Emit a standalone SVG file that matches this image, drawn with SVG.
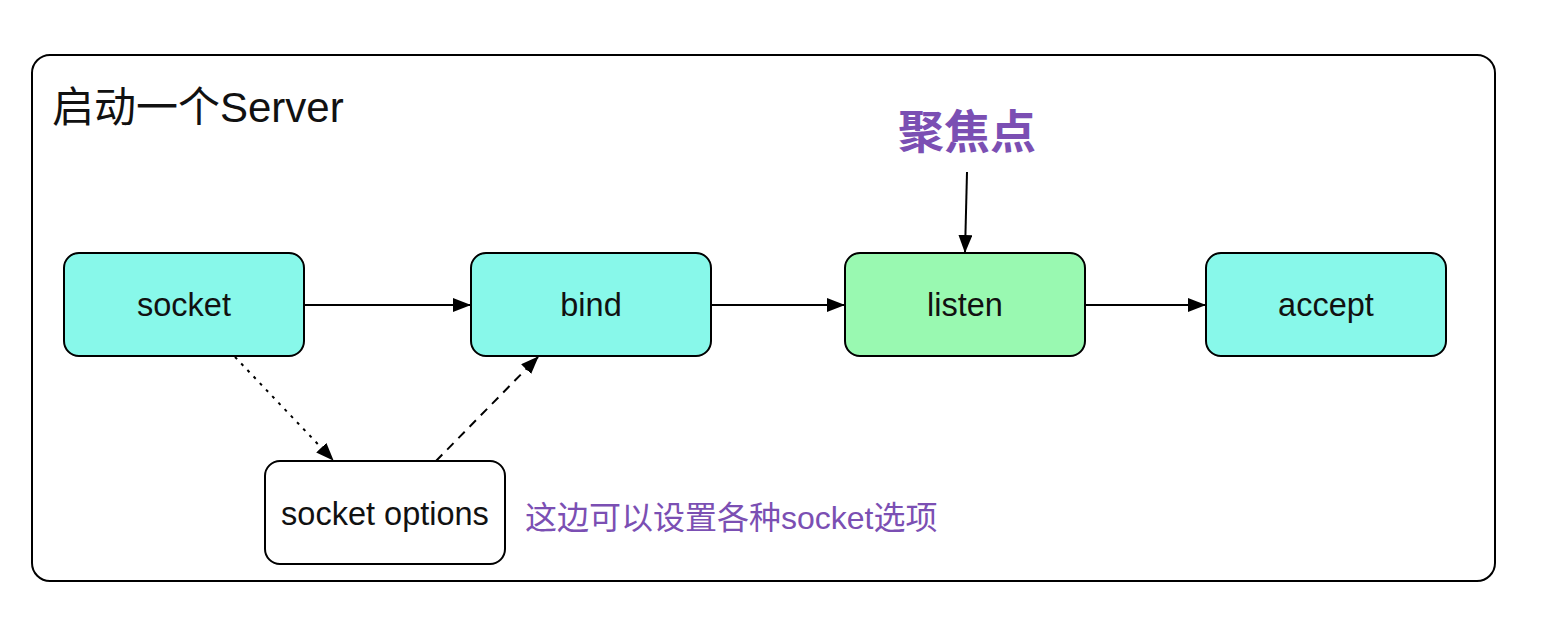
<svg xmlns="http://www.w3.org/2000/svg" width="1544" height="640" viewBox="0 0 1544 640">
<style>
.node{stroke:#000;stroke-width:2}
.c{fill:#88f8ea}
.g{fill:#99f9b1}
.w{fill:#fff}
.t{font-family:"Liberation Sans",Arial,"Noto Sans CJK SC",sans-serif;font-size:32.5px;fill:#111;text-anchor:middle}
.p{font-family:"Liberation Sans",Arial,"Noto Sans CJK SC",sans-serif;fill:#7b4fb3}
.e{stroke:#000;stroke-width:2;fill:none}
</style>
<defs>
<marker id="a" viewBox="0 0 18 14" refX="17" refY="7" markerWidth="18" markerHeight="14" markerUnits="userSpaceOnUse" orient="auto">
<path d="M0,0 L18,7 L0,14 Z" fill="#000"/>
</marker>
</defs>
<rect width="1544" height="640" fill="#fff"/>
<g id="container">
<rect x="32" y="55" width="1463" height="526" rx="18" fill="#fff" stroke="#000" stroke-width="2"/>
<text x="52" y="122" font-family="'Liberation Sans',Arial,'Noto Sans CJK SC',sans-serif" font-size="42" fill="#111">启动一个Server</text>
</g>
<g id="connectors">
<line class="e" x1="304" y1="305" x2="470" y2="305" marker-end="url(#a)"/>
<line class="e" x1="711" y1="305" x2="844" y2="305" marker-end="url(#a)"/>
<line class="e" x1="1085" y1="305" x2="1205" y2="305" marker-end="url(#a)"/>
<line class="e" x1="967" y1="172" x2="965" y2="252" marker-end="url(#a)"/>
<line class="e" x1="235" y1="357" x2="333" y2="460" stroke-dasharray="3 6" marker-end="url(#a)"/>
<line class="e" x1="436" y1="461" x2="538" y2="357" stroke-dasharray="9 7" marker-end="url(#a)"/>
</g>
<g id="socket">
<rect class="node c" x="64" y="253" width="240" height="103" rx="15"/>
<text class="t" x="184" y="316">socket</text>
</g>
<g id="bind">
<rect class="node c" x="471" y="253" width="240" height="103" rx="15"/>
<text class="t" x="591" y="316">bind</text>
</g>
<g id="listen">
<rect class="node g" x="845" y="253" width="240" height="103" rx="15"/>
<text class="t" x="965" y="316">listen</text>
</g>
<g id="accept">
<rect class="node c" x="1206" y="253" width="240" height="103" rx="15"/>
<text class="t" x="1326" y="316">accept</text>
</g>
<g id="socket-options">
<rect class="node w" x="265" y="461" width="240" height="103" rx="15"/>
<text class="t" x="385" y="525">socket options</text>
</g>
<g id="focus-label">
<text class="p" x="967" y="148" font-size="46" font-weight="bold" text-anchor="middle">聚焦点</text>
</g>
<g id="options-note">
<text class="p" x="525" y="529" font-size="32">这边可以设置各种socket选项</text>
</g>
</svg>
